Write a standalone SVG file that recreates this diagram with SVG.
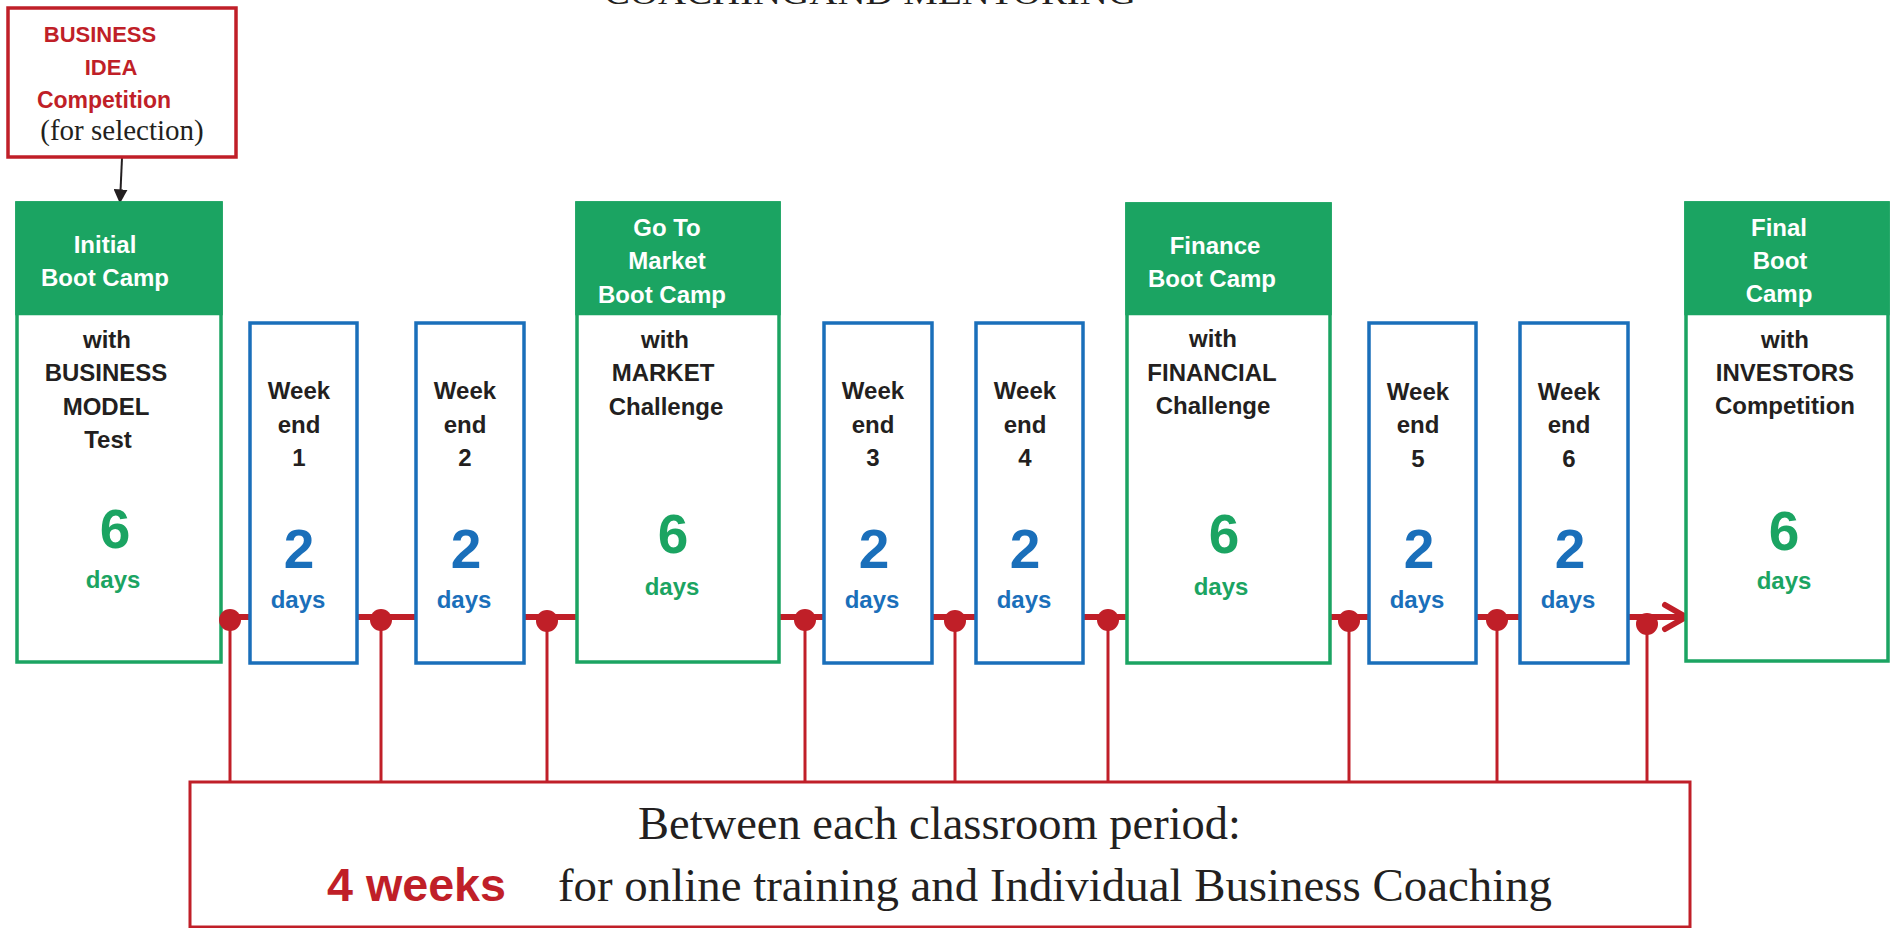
<svg xmlns="http://www.w3.org/2000/svg" width="1891" height="928" viewBox="0 0 1891 928">
<defs>
<style>
.s{font-family:"Liberation Sans",Arial,sans-serif;font-weight:bold;text-anchor:middle}
.hd{font-size:24px;fill:#ffffff}
.bd{font-size:24px;fill:#231f20}
.gn{fill:#1ba462}
.bl{fill:#1a6fba}
.big{font-size:55px}
.dy{font-size:24px}
.gbox{fill:#ffffff;stroke:#1ba462;stroke-width:3.5}
.ghead{fill:#1ba462}
.bbox{fill:#ffffff;stroke:#1a6fba;stroke-width:3.5}
.rl{stroke:#c01f28;fill:none}
.dot{fill:#c01f28}
.serif{font-family:"Liberation Serif","Times New Roman",serif;fill:#231f20}
</style>
<marker id="ah" viewBox="0 0 10 10" refX="9" refY="5" markerWidth="7" markerHeight="7" markerUnits="strokeWidth" orient="auto">
<path d="M0,0 L10,5 L0,10 z" fill="#231f20"/>
</marker>
</defs>
<rect width="1891" height="928" fill="#ffffff"/>

<text class="serif" x="604" y="4" font-size="34" textLength="532" lengthAdjust="spacingAndGlyphs">COACHINGAND MENTORING</text>

<g id="connectors">
<line class="rl" x1="221" y1="617" x2="1684" y2="617" stroke-width="6"/>
<polyline class="rl" points="1665,605 1686,617 1665,629" stroke-width="6" stroke-linecap="round" stroke-linejoin="round"/>
<line x1="122" y1="158" x2="120" y2="202" stroke="#231f20" stroke-width="2" marker-end="url(#ah)"/>
</g>

<g id="idea">
<rect x="8" y="8" width="228" height="149" fill="#ffffff" stroke="#c01f28" stroke-width="3.5"/>
<text class="s" x="100" y="42" font-size="22" fill="#c01f28">BUSINESS</text>
<text class="s" x="111" y="75" font-size="22" fill="#c01f28">IDEA</text>
<text class="s" x="104" y="108" font-size="23" fill="#c01f28">Competition</text>
<text class="serif" x="122" y="140" font-size="29" text-anchor="middle">(for selection)</text>
</g>

<g id="bc1">
<rect class="gbox" x="17" y="203" width="204" height="459"/>
<rect class="ghead" x="15.25" y="201.25" width="207.5" height="114"/>
<text class="s hd" x="105" y="253">Initial</text>
<text class="s hd" x="105" y="286">Boot Camp</text>
<text class="s bd" x="107" y="348">with</text>
<text class="s bd" x="106" y="381">BUSINESS</text>
<text class="s bd" x="106" y="415">MODEL</text>
<text class="s bd" x="108" y="448">Test</text>
<text class="s gn big" x="115" y="548">6</text>
<text class="s gn dy" x="113" y="588">days</text>
</g>

<g id="we1">
<rect class="bbox" x="250" y="323" width="107" height="340"/>
<text class="s bd" x="299" y="399">Week</text>
<text class="s bd" x="299" y="433">end</text>
<text class="s bd" x="299" y="466">1</text>
<text class="s bl big" x="299" y="568">2</text>
<text class="s bl dy" x="298" y="608">days</text>
</g>

<g id="we2">
<rect class="bbox" x="416" y="323" width="108" height="340"/>
<text class="s bd" x="465" y="399">Week</text>
<text class="s bd" x="465" y="433">end</text>
<text class="s bd" x="465" y="466">2</text>
<text class="s bl big" x="466" y="568">2</text>
<text class="s bl dy" x="464" y="608">days</text>
</g>

<g id="bc2">
<rect class="gbox" x="577" y="203" width="202" height="459"/>
<rect class="ghead" x="575.25" y="201.25" width="205.5" height="114"/>
<text class="s hd" x="667" y="236">Go To</text>
<text class="s hd" x="667" y="269">Market</text>
<text class="s hd" x="662" y="303">Boot Camp</text>
<text class="s bd" x="665" y="348">with</text>
<text class="s bd" x="663" y="381">MARKET</text>
<text class="s bd" x="666" y="415">Challenge</text>
<text class="s gn big" x="673" y="553">6</text>
<text class="s gn dy" x="672" y="595">days</text>
</g>

<g id="we3">
<rect class="bbox" x="824" y="323" width="108" height="340"/>
<text class="s bd" x="873" y="399">Week</text>
<text class="s bd" x="873" y="433">end</text>
<text class="s bd" x="873" y="466">3</text>
<text class="s bl big" x="874" y="568">2</text>
<text class="s bl dy" x="872" y="608">days</text>
</g>

<g id="we4">
<rect class="bbox" x="976" y="323" width="107" height="340"/>
<text class="s bd" x="1025" y="399">Week</text>
<text class="s bd" x="1025" y="433">end</text>
<text class="s bd" x="1025" y="466">4</text>
<text class="s bl big" x="1025" y="568">2</text>
<text class="s bl dy" x="1024" y="608">days</text>
</g>

<g id="bc3">
<rect class="gbox" x="1127" y="204" width="203" height="459"/>
<rect class="ghead" x="1125.25" y="202.25" width="206.5" height="113"/>
<text class="s hd" x="1215" y="254">Finance</text>
<text class="s hd" x="1212" y="287">Boot Camp</text>
<text class="s bd" x="1213" y="347">with</text>
<text class="s bd" x="1212" y="381">FINANCIAL</text>
<text class="s bd" x="1213" y="414">Challenge</text>
<text class="s gn big" x="1224" y="553">6</text>
<text class="s gn dy" x="1221" y="595">days</text>
</g>

<g id="we5">
<rect class="bbox" x="1369" y="323" width="107" height="340"/>
<text class="s bd" x="1418" y="400">Week</text>
<text class="s bd" x="1418" y="433">end</text>
<text class="s bd" x="1418" y="467">5</text>
<text class="s bl big" x="1419" y="568">2</text>
<text class="s bl dy" x="1417" y="608">days</text>
</g>

<g id="we6">
<rect class="bbox" x="1520" y="323" width="108" height="340"/>
<text class="s bd" x="1569" y="400">Week</text>
<text class="s bd" x="1569" y="433">end</text>
<text class="s bd" x="1569" y="467">6</text>
<text class="s bl big" x="1570" y="568">2</text>
<text class="s bl dy" x="1568" y="608">days</text>
</g>

<g id="bc4">
<rect class="gbox" x="1686" y="203" width="202" height="458"/>
<rect class="ghead" x="1684.25" y="201.25" width="205.5" height="114"/>
<text class="s hd" x="1779" y="236">Final</text>
<text class="s hd" x="1780" y="269">Boot</text>
<text class="s hd" x="1779" y="302">Camp</text>
<text class="s bd" x="1785" y="348">with</text>
<text class="s bd" x="1785" y="381">INVESTORS</text>
<text class="s bd" x="1785" y="414">Competition</text>
<text class="s gn big" x="1784" y="550">6</text>
<text class="s gn dy" x="1784" y="589">days</text>
</g>

<g id="links">
<g class="rl" stroke-width="3">
<line x1="230" y1="620" x2="230" y2="782"/>
<line x1="381" y1="620" x2="381" y2="782"/>
<line x1="547" y1="620" x2="547" y2="782"/>
<line x1="805" y1="620" x2="805" y2="782"/>
<line x1="955" y1="620" x2="955" y2="782"/>
<line x1="1108" y1="620" x2="1108" y2="782"/>
<line x1="1349" y1="620" x2="1349" y2="782"/>
<line x1="1497" y1="620" x2="1497" y2="782"/>
<line x1="1647" y1="622" x2="1647" y2="782"/>
</g>
<circle class="dot" cx="230" cy="620" r="11"/>
<circle class="dot" cx="381" cy="620" r="11"/>
<circle class="dot" cx="547" cy="621" r="11"/>
<circle class="dot" cx="805" cy="620" r="11"/>
<circle class="dot" cx="955" cy="621" r="11"/>
<circle class="dot" cx="1108" cy="620" r="11"/>
<circle class="dot" cx="1349" cy="621" r="11"/>
<circle class="dot" cx="1497" cy="620" r="11"/>
<circle class="dot" cx="1647" cy="624" r="11"/>
</g>

<g id="between">
<rect x="190" y="782" width="1500" height="145" fill="#ffffff" stroke="#c01f28" stroke-width="3"/>
<text class="serif" x="638" y="839" font-size="46" textLength="603" lengthAdjust="spacingAndGlyphs">Between each classroom period:</text>
<text x="327" y="901" font-family="Liberation Sans, Arial, sans-serif" font-weight="bold" font-size="46" fill="#c01f28" textLength="179" lengthAdjust="spacingAndGlyphs">4 weeks</text>
<text class="serif" x="558" y="901" font-size="46" textLength="994" lengthAdjust="spacingAndGlyphs">for online training and Individual Business Coaching</text>
</g>
</svg>
